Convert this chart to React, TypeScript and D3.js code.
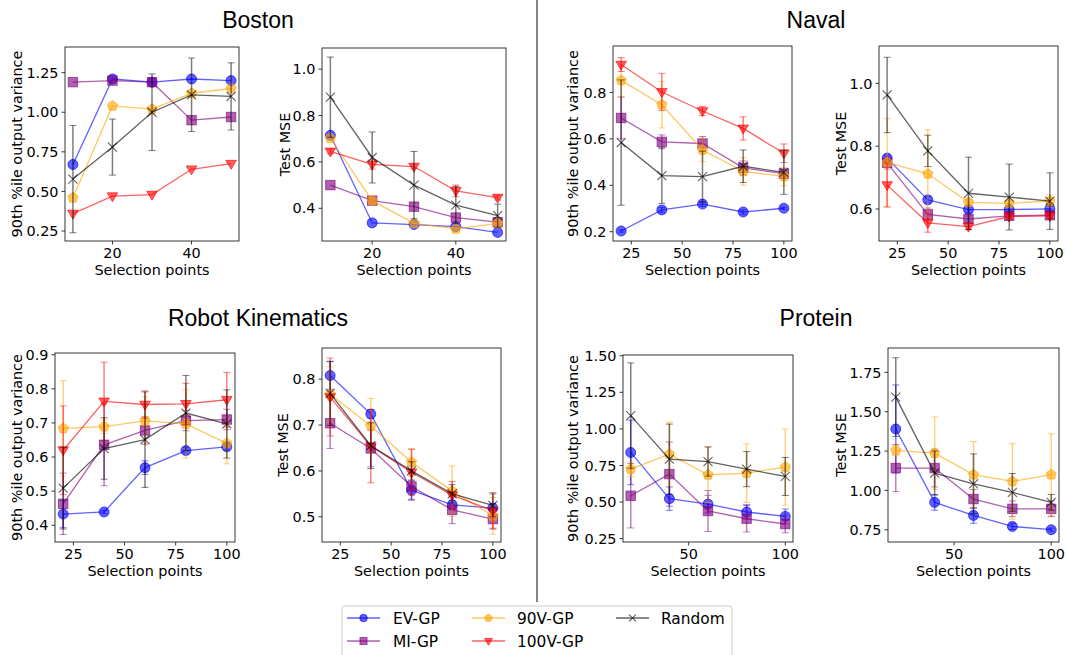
import React from 'react';
import * as d3 from 'd3';

// ---------- DATA ----------
const xBoston = [10, 20, 30, 40, 50];
const xOther = [20, 40, 60, 80, 100];
const seriesNames = ['EV-GP', 'MI-GP', '90V-GP', '100V-GP', 'Random'];
const seriesColors = ['blue', 'purple', 'orange', 'red', 'black'];
const seriesShapes = ['o', 's', 'p', 'v', 'x'];

// Boston – 90th %ile output variance
const bostonVarEV = [0.67, 1.21, 1.19, 1.21, 1.2];
const bostonVarMI = [1.19, 1.2, 1.19, 0.95, 0.97];
const bostonVar90 = [0.46, 1.04, 1.02, 1.12, 1.15];
const bostonVar100 = [0.36, 0.47, 0.48, 0.64, 0.675];
const bostonVarRand = [0.578, 0.78, 1.0, 1.11, 1.1];
const bostonVarRandErr = [0.339, 0.177, 0.242, 0.232, 0.212];

// Boston – Test MSE
const bostonMseEV = [0.715, 0.337, 0.33, 0.321, 0.296];
const bostonMseMI = [0.5, 0.433, 0.407, 0.36, 0.34];
const bostonMse90 = [0.702, 0.433, 0.335, 0.311, 0.335];
const bostonMse100 = [0.645, 0.589, 0.58, 0.475, 0.446];
const bostonMse100Err = [0.01, 0.02, 0.01, 0.025, 0.01];
const bostonMseRand = [0.879, 0.619, 0.5, 0.414, 0.368];
const bostonMseRandErr = [0.173, 0.11, 0.145, 0.08, 0.05];

// Naval – variance
const navalVarEV = [0.203, 0.294, 0.319, 0.285, 0.301];
const navalVarEVErr = [0.005, 0.01, 0.01, 0.01, 0.005];
const navalVarMI = [0.69, 0.587, 0.58, 0.475, 0.45];
const navalVarMIErr = [0.09, 0.03, 0.03, 0.03, 0.02];
const navalVar90 = [0.852, 0.747, 0.552, 0.46, 0.438];
const navalVar90Err = [0.07, 0.1, 0.05, 0.06, 0.04];
const navalVar100 = [0.92, 0.802, 0.72, 0.645, 0.538];
const navalVar100Err = [0.03, 0.08, 0.02, 0.05, 0.04];
const navalVarRand = [0.584, 0.442, 0.437, 0.482, 0.456];
const navalVarRandErr = [0.27, 0.12, 0.11, 0.07, 0.095];

// Naval – MSE
const navalMseEV = [0.762, 0.629, 0.598, 0.598, 0.6];
const navalMseEVErr = [0.01, 0.01, 0.01, 0.01, 0.01];
const navalMseMI = [0.747, 0.583, 0.568, 0.578, 0.58];
const navalMseMIErr = [0.02, 0.02, 0.01, 0.01, 0.01];
const navalMse90 = [0.748, 0.712, 0.621, 0.618, 0.625];
const navalMse90Err = [0.14, 0.14, 0.01, 0.01, 0.02];
const navalMse100 = [0.676, 0.556, 0.544, 0.576, 0.578];
const navalMse100Err = [0.07, 0.03, 0.01, 0.01, 0.01];
const navalMseRand = [0.963, 0.785, 0.65, 0.638, 0.625];
const navalMseRandErr = [0.12, 0.05, 0.115, 0.105, 0.09];

// Robot Kinematics – variance
const robotVarEV = [0.433, 0.439, 0.569, 0.619, 0.63];
const robotVarEVErr = [0.04, 0.005, 0.02, 0.01, 0.01];
const robotVarMI = [0.463, 0.636, 0.678, 0.707, 0.71];
const robotVarMIErr = [0.09, 0.12, 0.04, 0.03, 0.03];
const robotVar90 = [0.684, 0.689, 0.706, 0.697, 0.64];
const robotVar90Err = [0.14, 0.02, 0.07, 0.1, 0.06];
const robotVar100 = [0.62, 0.763, 0.754, 0.756, 0.768];
const robotVar100Err = [0.13, 0.115, 0.04, 0.06, 0.08];
const robotVarRand = [0.509, 0.625, 0.651, 0.729, 0.697];
const robotVarRandErr = [0.12, 0.09, 0.14, 0.11, 0.1];

// Robot Kinematics – MSE
const robotMseEV = [0.808, 0.724, 0.558, 0.526, 0.519];
const robotMseEVErr = [0.03, 0.01, 0.02, 0.01, 0.01];
const robotMseMI = [0.704, 0.649, 0.566, 0.515, 0.495];
const robotMseMIErr = [0.055, 0.04, 0.03, 0.03, 0.02];
const robotMse90 = [0.767, 0.698, 0.619, 0.556, 0.502];
const robotMse90Err = [0.06, 0.06, 0.03, 0.055, 0.04];
const robotMse100 = [0.761, 0.654, 0.597, 0.547, 0.513];
const robotMse100Err = [0.085, 0.08, 0.05, 0.03, 0.04];
const robotMseRand = [0.769, 0.655, 0.6, 0.55, 0.525];
const robotMseRandErr = [0.07, 0.05, 0.02, 0.02, 0.025];

// Protein – variance
const proteinVarEV = [0.839, 0.523, 0.486, 0.432, 0.402];
const proteinVarEVErr = [0.22, 0.08, 0.06, 0.05, 0.05];
const proteinVarMI = [0.543, 0.691, 0.439, 0.386, 0.35];
const proteinVarMIErr = [0.22, 0.22, 0.14, 0.09, 0.06];
const proteinVar90 = [0.725, 0.827, 0.686, 0.698, 0.739];
const proteinVar90Err = [0.05, 0.22, 0.19, 0.2, 0.26];
const proteinVarRand = [1.091, 0.793, 0.777, 0.725, 0.675];
const proteinVarRandErr = [0.36, 0.24, 0.1, 0.12, 0.13];

// Protein – MSE
const proteinMseEV = [1.39, 0.924, 0.841, 0.771, 0.75];
const proteinMseEVErr = [0.28, 0.05, 0.05, 0.02, 0.01];
const proteinMseMI = [1.142, 1.142, 0.945, 0.883, 0.883];
const proteinMseMIErr = [0.15, 0.12, 0.06, 0.05, 0.05];
const proteinMse90 = [1.254, 1.237, 1.1, 1.057, 1.1];
const proteinMse90Err = [0.03, 0.23, 0.21, 0.24, 0.26];
const proteinMseRand = [1.593, 1.11, 1.042, 0.987, 0.924];
const proteinMseRandErr = [0.25, 0.14, 0.19, 0.12, 0.05];

const titles = [
  { text: 'Boston', x: 258, y: 28 },
  { text: 'Naval', x: 816, y: 28 },
  { text: 'Robot Kinematics', x: 258, y: 326 },
  { text: 'Protein', x: 816, y: 326 },
];

type S = { idx: number; mean: number[]; err?: number[] };
type Panel = {
  box: [number, number, number, number];
  xd: [number, number];
  yd: [number, number];
  xs: number[];
  xTicks: number[];
  yTicks: number[];
  yDec: number;
  ylabel: string;
  ylabelX: number;
  series: S[];
};

const VAR = '90th %ile output variance';
const MSE = 'Test MSE';

const panels: Panel[] = [
  {
    box: [65, 47, 239, 241], xd: [8, 52], yd: [0.187, 1.412], xs: xBoston,
    xTicks: [20, 40], yTicks: [0.25, 0.5, 0.75, 1.0, 1.25], yDec: 2, ylabel: VAR, ylabelX: 17,
    series: [
      { idx: 0, mean: bostonVarEV }, { idx: 1, mean: bostonVarMI }, { idx: 2, mean: bostonVar90 },
      { idx: 3, mean: bostonVar100 }, { idx: 4, mean: bostonVarRand, err: bostonVarRandErr },
    ],
  },
  {
    box: [322, 48, 506, 241], xd: [8, 52], yd: [0.259, 1.091], xs: xBoston,
    xTicks: [20, 40], yTicks: [0.4, 0.6, 0.8, 1.0], yDec: 1, ylabel: MSE, ylabelX: 285,
    series: [
      { idx: 0, mean: bostonMseEV }, { idx: 1, mean: bostonMseMI }, { idx: 2, mean: bostonMse90 },
      { idx: 3, mean: bostonMse100, err: bostonMse100Err }, { idx: 4, mean: bostonMseRand, err: bostonMseRandErr },
    ],
  },
  {
    box: [613, 46, 792, 241], xd: [16, 104], yd: [0.16, 1.0], xs: xOther,
    xTicks: [25, 50, 75, 100], yTicks: [0.2, 0.4, 0.6, 0.8], yDec: 1, ylabel: VAR, ylabelX: 573,
    series: [
      { idx: 0, mean: navalVarEV, err: navalVarEVErr }, { idx: 1, mean: navalVarMI, err: navalVarMIErr },
      { idx: 2, mean: navalVar90, err: navalVar90Err }, { idx: 3, mean: navalVar100, err: navalVar100Err },
      { idx: 4, mean: navalVarRand, err: navalVarRandErr },
    ],
  },
  {
    box: [879, 46, 1058, 241], xd: [16, 104], yd: [0.498, 1.119], xs: xOther,
    xTicks: [25, 50, 75, 100], yTicks: [0.6, 0.8, 1.0], yDec: 1, ylabel: MSE, ylabelX: 841,
    series: [
      { idx: 0, mean: navalMseEV, err: navalMseEVErr }, { idx: 1, mean: navalMseMI, err: navalMseMIErr },
      { idx: 2, mean: navalMse90, err: navalMse90Err }, { idx: 3, mean: navalMse100, err: navalMse100Err },
      { idx: 4, mean: navalMseRand, err: navalMseRandErr },
    ],
  },
  {
    box: [55, 353, 235, 542], xd: [16, 104], yd: [0.351, 0.905], xs: xOther,
    xTicks: [25, 50, 75, 100], yTicks: [0.4, 0.5, 0.6, 0.7, 0.8, 0.9], yDec: 1, ylabel: VAR, ylabelX: 17,
    series: [
      { idx: 0, mean: robotVarEV, err: robotVarEVErr }, { idx: 1, mean: robotVarMI, err: robotVarMIErr },
      { idx: 2, mean: robotVar90, err: robotVar90Err }, { idx: 3, mean: robotVar100, err: robotVar100Err },
      { idx: 4, mean: robotVarRand, err: robotVarRandErr },
    ],
  },
  {
    box: [322, 348, 501, 542], xd: [16, 104], yd: [0.445, 0.868], xs: xOther,
    xTicks: [25, 50, 75, 100], yTicks: [0.5, 0.6, 0.7, 0.8], yDec: 1, ylabel: MSE, ylabelX: 283,
    series: [
      { idx: 0, mean: robotMseEV, err: robotMseEVErr }, { idx: 1, mean: robotMseMI, err: robotMseMIErr },
      { idx: 2, mean: robotMse90, err: robotMse90Err }, { idx: 3, mean: robotMse100, err: robotMse100Err },
      { idx: 4, mean: robotMseRand, err: robotMseRandErr },
    ],
  },
  {
    box: [623, 355, 793, 542], xd: [16, 104], yd: [0.227, 1.505], xs: xOther,
    xTicks: [50, 100], yTicks: [0.25, 0.5, 0.75, 1.0, 1.25, 1.5], yDec: 2, ylabel: VAR, ylabelX: 573,
    series: [
      { idx: 0, mean: proteinVarEV, err: proteinVarEVErr }, { idx: 1, mean: proteinVarMI, err: proteinVarMIErr },
      { idx: 2, mean: proteinVar90, err: proteinVar90Err }, { idx: 4, mean: proteinVarRand, err: proteinVarRandErr },
    ],
  },
  {
    box: [888, 348, 1059, 542], xd: [16, 104], yd: [0.672, 1.905], xs: xOther,
    xTicks: [50, 100], yTicks: [0.75, 1.0, 1.25, 1.5, 1.75], yDec: 2, ylabel: MSE, ylabelX: 841,
    series: [
      { idx: 0, mean: proteinMseEV, err: proteinMseEVErr }, { idx: 1, mean: proteinMseMI, err: proteinMseMIErr },
      { idx: 2, mean: proteinMse90, err: proteinMse90Err }, { idx: 4, mean: proteinMseRand, err: proteinMseRandErr },
    ],
  },
];

const FONT = 'DejaVu Sans, Verdana, sans-serif';
const ALPHA = 0.62;

function Marker({ shape, color, cx, cy, s = 1 }: { shape: string; color: string; cx: number; cy: number; s?: number }) {
  const fill = { fill: color, fillOpacity: ALPHA, stroke: color, strokeOpacity: ALPHA, strokeWidth: 1 };
  if (shape === 'o') return <circle cx={cx} cy={cy} r={5 * s} {...fill} />;
  if (shape === 's') {
    const h = 4.7 * s;
    return <rect x={cx - h} y={cy - h} width={2 * h} height={2 * h} {...fill} />;
  }
  if (shape === 'p') {
    const r = 5.4 * s;
    const pts = d3.range(5).map((k) => {
      const a = -Math.PI / 2 + (k * 2 * Math.PI) / 5;
      return [cx + r * Math.cos(a), cy + r * Math.sin(a)];
    });
    return <polygon points={pts.map((p) => p.join(',')).join(' ')} {...fill} />;
  }
  if (shape === 'v') {
    const r = 5.6 * s;
    const pts = [
      [cx - r * 0.95, cy - r * 0.6],
      [cx + r * 0.95, cy - r * 0.6],
      [cx, cy + r],
    ];
    return <polygon points={pts.map((p) => p.join(',')).join(' ')} {...fill} />;
  }
  const h = 4.5 * s;
  return (
    <path
      d={`M${cx - h},${cy - h}L${cx + h},${cy + h}M${cx - h},${cy + h}L${cx + h},${cy - h}`}
      stroke={color}
      strokeOpacity={ALPHA}
      strokeWidth={1.1}
      fill="none"
    />
  );
}

function PanelView({ p }: { p: Panel }) {
  const [l, t, r, b] = p.box;
  const x = d3.scaleLinear().domain(p.xd).range([l, r]);
  const y = d3.scaleLinear().domain(p.yd).range([b, t]);
  const line = d3
    .line<[number, number]>()
    .x((d) => x(d[0]))
    .y((d) => y(d[1]));
  const fmt = d3.format(`.${p.yDec}f`);
  return (
    <g>
      <defs>
        <clipPath id={`clip-${l}-${t}`}>
          <rect x={l} y={t} width={r - l} height={b - t} />
        </clipPath>
      </defs>
      <g clipPath={`url(#clip-${l}-${t})`}>
        {p.series.map((s) => {
          const color = seriesColors[s.idx];
          const pts = p.xs.map((xv, i) => [xv, s.mean[i]] as [number, number]);
          return (
            <g key={s.idx}>
              {s.err &&
                pts.map((d, i) => {
                  const e = s.err![i];
                  const y1 = y(d[1] - e);
                  const y2 = y(d[1] + e);
                  const cx = x(d[0]);
                  return (
                    <g key={i} stroke={color} strokeOpacity={0.5} strokeWidth={1.5}>
                      <line x1={cx} x2={cx} y1={y1} y2={y2} />
                      <line x1={cx - 3.5} x2={cx + 3.5} y1={y1} y2={y1} strokeWidth={1} />
                      <line x1={cx - 3.5} x2={cx + 3.5} y1={y2} y2={y2} strokeWidth={1} />
                    </g>
                  );
                })}
              <path d={line(pts) || ''} fill="none" stroke={color} strokeOpacity={ALPHA} strokeWidth={1.3} />
              {pts.map((d, i) => (
                <Marker key={i} shape={seriesShapes[s.idx]} color={color} cx={x(d[0])} cy={y(d[1])} />
              ))}
            </g>
          );
        })}
      </g>
      <rect x={l} y={t} width={r - l} height={b - t} fill="none" stroke="#222" strokeWidth={0.9} />
      {p.xTicks.map((tv) => (
        <g key={tv}>
          <line x1={x(tv)} x2={x(tv)} y1={b} y2={b + 3.5} stroke="#222" strokeWidth={0.9} />
          <text x={x(tv)} y={b + 17} textAnchor="middle" fontFamily={FONT} fontSize={14.4} fill="#000">
            {tv}
          </text>
        </g>
      ))}
      {p.yTicks.map((tv) => (
        <g key={tv}>
          <line x1={l - 3.5} x2={l} y1={y(tv)} y2={y(tv)} stroke="#222" strokeWidth={0.9} />
          <text x={l - 6.5} y={y(tv)} dy="0.36em" textAnchor="end" fontFamily={FONT} fontSize={14.4} fill="#000">
            {fmt(tv)}
          </text>
        </g>
      ))}
      <text x={(l + r) / 2} y={b + 34} textAnchor="middle" fontFamily={FONT} fontSize={14.4} fill="#000">
        Selection points
      </text>
      <text
        transform={`translate(${p.ylabelX},${(t + b) / 2}) rotate(-90)`}
        dy="0.36em"
        textAnchor="middle"
        fontFamily={FONT}
        fontSize={14.4}
        fill="#000"
      >
        {p.ylabel}
      </text>
    </g>
  );
}

const legendCols = [
  { lineX: 347, textX: 393 },
  { lineX: 472, textX: 517 },
  { lineX: 616, textX: 661 },
];
const legendRows = [618, 641];

export default function App() {
  return (
    <svg
      width={1066}
      height={655}
      viewBox="0 0 1066 655"
      style={{ position: 'absolute', left: 0, top: 0, background: '#fff' }}
    >
      <rect width={1066} height={655} fill="#fff" />
      {titles.map((tt) => (
        <text
          key={tt.text}
          x={tt.x}
          y={tt.y}
          textAnchor="middle"
          fontFamily="Liberation Sans, Arial, sans-serif"
          fontSize={23}
          fill="#000"
        >
          {tt.text}
        </text>
      ))}
      <line x1={537} x2={537} y1={0} y2={602} stroke="#333" strokeWidth={1.2} />
      {panels.map((p, i) => (
        <PanelView key={i} p={p} />
      ))}
      <rect x={342} y={606} width={390} height={62} rx={3} fill="#fff" fillOpacity={0.8} stroke="#ccc" strokeWidth={1} />
      {seriesNames.map((name, i) => {
        const col = legendCols[Math.floor(i / 2)];
        const row = legendRows[i % 2];
        const color = seriesColors[i];
        return (
          <g key={name}>
            <line x1={col.lineX} x2={col.lineX + 33} y1={row} y2={row} stroke={color} strokeOpacity={ALPHA} strokeWidth={1.3} />
            <Marker shape={seriesShapes[i]} color={color} cx={col.lineX + 16.5} cy={row} s={0.75} />
            <text x={col.textX} y={row} dy="0.36em" fontFamily={FONT} fontSize={15.4} fill="#000">
              {name}
            </text>
          </g>
        );
      })}
    </svg>
  );
}
